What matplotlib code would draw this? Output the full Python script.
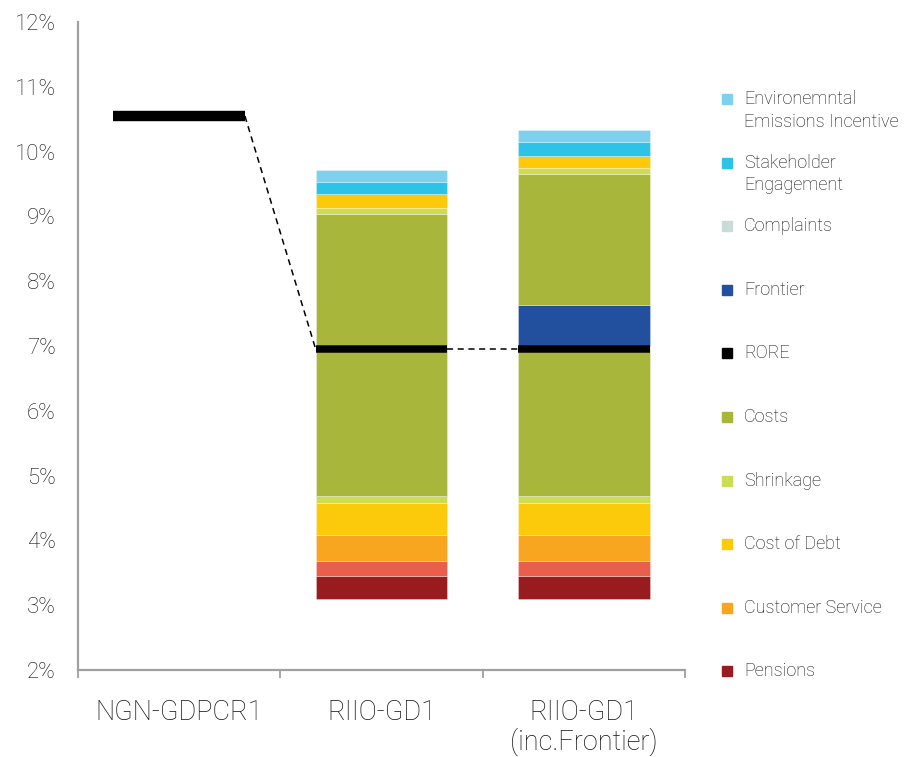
import matplotlib
matplotlib.use("Agg")
import matplotlib.pyplot as plt
from matplotlib.patches import Rectangle
from matplotlib.ticker import FixedLocator

plt.rcParams['font.family'] = ['Roboto', 'DejaVu Sans']
plt.rcParams['font.weight'] = 'light'

# ---- data ----
categories = ["NGN-GDPCR1", "RIIO-GD1", "RIIO-GD1\n(inc.Frontier)"]
ngn_rore = 10.55
rore = [6.95, 6.95]          # RORE for the two RIIO bars
base = [3.09, 3.09]          # where the stacks start
pensions = [0.365, 0.365]
other_red = [0.225, 0.225]
customer_service = [0.41, 0.41]
cost_of_debt = [0.49, 0.49]
shrinkage = [0.11, 0.11]
costs_lower = [2.31, 2.31]
frontier = [0.0, 0.63]
costs_upper = [2.03, 2.02]
shrinkage_upper = [0.10, 0.10]
cost_of_debt_upper = [0.22, 0.19]
stakeholder = [0.18, 0.21]
env_emissions = [0.19, 0.19]
yticks = [2, 3, 4, 5, 6, 7, 8, 9, 10, 11, 12]

colors = {
    "Environemntal\nEmissions Incentive": "#7DD1EE",
    "Stakeholder\nEngagement": "#2EC2E6",
    "Complaints": "#C8DCD8",
    "Frontier": "#234F9F",
    "RORE": "#000000",
    "Costs": "#A8B73C",
    "Shrinkage": "#CDDC55",
    "Cost of Debt": "#FDC90B",
    "Customer Service": "#F8A51F",
    "Pensions": "#981B1F",
}
other_red_color = "#EA5F4B"

stack = [
    (pensions, colors["Pensions"]),
    (other_red, other_red_color),
    (customer_service, colors["Customer Service"]),
    (cost_of_debt, colors["Cost of Debt"]),
    (shrinkage, colors["Shrinkage"]),
    (costs_lower, colors["Costs"]),
    (frontier, colors["Frontier"]),
    (costs_upper, colors["Costs"]),
    (shrinkage_upper, colors["Shrinkage"]),
    (cost_of_debt_upper, colors["Cost of Debt"]),
    (stakeholder, colors["Stakeholder\nEngagement"]),
    (env_emissions, colors["Environemntal\nEmissions Incentive"]),
]

fig = plt.figure(figsize=(9.06, 7.57), dpi=100)
ax = fig.add_axes([0.0861, 0.1149, 0.756 - 0.0861, 0.9709 - 0.1149])

width = 0.65
xs = [1, 2]
bottom = list(base)
for vals, c in stack:
    ax.bar(xs, vals, width=width, bottom=bottom, color=c,
           edgecolor=(1, 1, 1, 0.35), linewidth=0.6, zorder=2)
    bottom = [b + v for b, v in zip(bottom, vals)]

# RORE lines
ax.hlines([ngn_rore], -width / 2, width / 2, colors="black", linewidth=7.5, zorder=4)
for x, r in zip(xs, rore):
    ax.hlines(r, x - width / 2, x + width / 2, colors="black", linewidth=5.4, zorder=4)

# dashed connectors
ax.plot([width / 2, xs[0] - width / 2], [ngn_rore, rore[0]], color="black",
        linestyle=(0, (4, 3)), linewidth=1.1, zorder=3)
ax.plot([xs[0] + width / 2, xs[1] - width / 2], [rore[0], rore[1]], color="black",
        linestyle=(0, (4, 3)), linewidth=1.1, zorder=3)

ax.set_xlim(-0.5, 2.5)
ax.set_ylim(2, 12)
ax.set_yticks(yticks)
ax.set_yticklabels([f"{t}%" for t in yticks])
ax.tick_params(axis="y", length=0, pad=16, labelsize=16, labelcolor="#111111")
ax.set_xticks(range(len(categories)))
ax.set_xticklabels(categories, linespacing=1.08)
ax.tick_params(axis="x", which="major", length=0, pad=21, labelsize=19.5, labelcolor="#111111")
ax.xaxis.set_minor_locator(FixedLocator([-0.5, 0.5, 1.5, 2.5]))
ax.tick_params(axis="x", which="minor", length=6, width=1.3, color="#A0A0A0", direction="out")

for s in ["top", "right"]:
    ax.spines[s].set_visible(False)
for s in ["left", "bottom"]:
    ax.spines[s].set_color("#A0A0A0")
    ax.spines[s].set_linewidth(1.6)

# legend (manual, marker aligned with the first text line)
H = 757.0
W = 906.0
y0 = 99.0
step = 63.6
for i, (lab, c) in enumerate(colors.items()):
    yc = y0 + i * step
    fig.add_artist(Rectangle(((722) / W, 1 - (yc + 5) / H), 10 / W, 10 / H,
                             transform=fig.transFigure, color=c))
    fig.text(744 / W, 1 - (yc - 9) / H, lab, fontsize=13, color="#111111",
             va="top", ha="left", linespacing=1.35)

fig.savefig("out.png", dpi=100)
